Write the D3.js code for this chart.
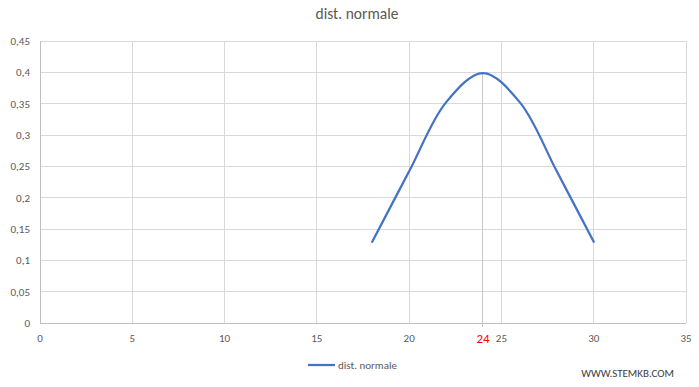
<!DOCTYPE html>
<html><head><meta charset="utf-8">
<script src="https://cdn.jsdelivr.net/npm/d3@7"></script>
<style>body{margin:0;background:#fff;}svg{display:block;font-family:Calibri,Carlito,"Liberation Sans","DejaVu Sans",sans-serif;}</style>
</head><body>
<svg id="c" width="699" height="387"></svg>
<script>
const xValues = [18, 20, 22, 24, 26, 28, 30];
const yValues = [0.1295, 0.2420, 0.3521, 0.3989, 0.3521, 0.2420, 0.1295];
const xTicks = [0, 5, 10, 15, 20, 25, 30, 35];
const yTicks = [0, 0.05, 0.1, 0.15, 0.2, 0.25, 0.3, 0.35, 0.4, 0.45];
const markX = 24;
const seriesName = "dist. normale";
const title = "dist. normale";
const credit = "WWW.STEMKB.COM";

const svg = d3.select("#c");
const L = 40, R = 686, T = 41, B = 323;
const x = d3.scaleLinear().domain([0, 35]).range([L, R]);
const y = d3.scaleLinear().domain([0, 0.45]).range([B, T]);
const grid = "#d9d9d9", txt = "#595959", blue = "#4472C4";
const fmt = v => String(+v.toFixed(2)).replace(".", ",");

// grid
svg.append("g").selectAll("line").data(yTicks).join("line")
  .attr("x1", L).attr("x2", R).attr("y1", d => y(d)).attr("y2", d => y(d))
  .attr("stroke", grid).attr("stroke-width", 1).attr("shape-rendering", "crispEdges");
svg.append("g").selectAll("line").data(xTicks).join("line")
  .attr("x1", d => x(d)).attr("x2", d => x(d)).attr("y1", T).attr("y2", B)
  .attr("stroke", grid).attr("stroke-width", 1).attr("shape-rendering", "crispEdges");
// axes
svg.append("line").attr("x1", L).attr("x2", R).attr("y1", B).attr("y2", B)
  .attr("stroke", "#bfbfbf").attr("shape-rendering", "crispEdges");
svg.append("line").attr("x1", L).attr("x2", L).attr("y1", T).attr("y2", B)
  .attr("stroke", "#bfbfbf").attr("shape-rendering", "crispEdges");
// marker line at 24, from the curve peak down past the axis
const peak = yValues[xValues.indexOf(markX)];
svg.append("line").attr("x1", x(markX)).attr("x2", x(markX)).attr("y1", y(peak)).attr("y2", B + 4)
  .attr("stroke", "#c8c8c8").attr("shape-rendering", "crispEdges");

// tick labels
svg.append("g").selectAll("text").data(yTicks).join("text")
  .attr("x", 30).attr("y", d => y(d) + 4).attr("text-anchor", "end")
  .attr("font-size", 11).attr("fill", txt).text(fmt);
svg.append("g").selectAll("text").data(xTicks).join("text")
  .attr("x", d => x(d)).attr("y", B + 19).attr("text-anchor", "middle")
  .attr("font-size", 11).attr("fill", txt).text(d => d);
svg.append("text").attr("x", x(markX)).attr("y", B + 20).attr("text-anchor", "middle")
  .attr("font-size", 13).attr("fill", "#ff0000").text(markX);

// curve
const pts = xValues.map((v, i) => [v, yValues[i]]);
svg.append("path").datum(pts)
  .attr("d", d3.line().x(d => x(d[0])).y(d => y(d[1])).curve(d3.curveCatmullRom.alpha(0.5)))
  .attr("fill", "none").attr("stroke", blue).attr("stroke-width", 2.25).attr("stroke-linecap", "round");

// title
svg.append("text").attr("x", 357).attr("y", 19).attr("text-anchor", "middle")
  .attr("font-size", 15.5).attr("fill", txt).text(title);

// legend
svg.append("line").attr("x1", 308).attr("x2", 335).attr("y1", 365).attr("y2", 365)
  .attr("stroke", blue).attr("stroke-width", 2.25);
svg.append("text").attr("x", 338).attr("y", 369).attr("font-size", 11).attr("fill", txt).text(seriesName);

// credit
svg.append("text").attr("x", 674).attr("y", 377).attr("text-anchor", "end")
  .attr("font-size", 11).attr("fill", "#404040").text(credit);
</script>
</body></html>
